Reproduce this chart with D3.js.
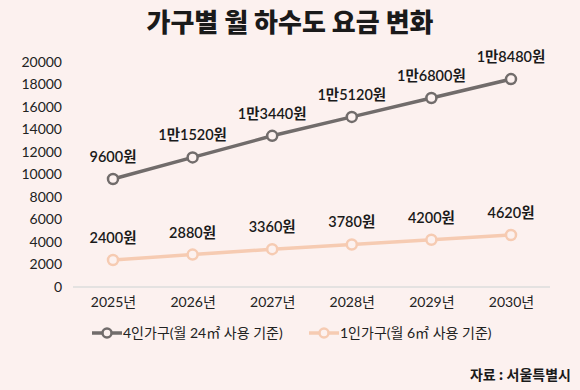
<!DOCTYPE html>
<html>
<head>
<meta charset="utf-8">
<script src="https://cdn.jsdelivr.net/npm/d3@7"></script>
<style>
  body { margin: 0; background: #fcf1ef; }
  svg { display: block; font-family: Lato, "Noto Sans CJK KR", sans-serif; }
</style>
</head>
<body>
<svg id="chart"></svg>
<script>
const years = ["2025년", "2026년", "2027년", "2028년", "2029년", "2030년"];
const family4 = [9600, 11520, 13440, 15120, 16800, 18480];
const family4Labels = ["9600원", "1만1520원", "1만3440원", "1만5120원", "1만6800원", "1만8480원"];
const family1 = [2400, 2880, 3360, 3780, 4200, 4620];
const family1Labels = ["2400원", "2880원", "3360원", "3780원", "4200원", "4620원"];
const yTicks = d3.range(0, 20001, 2000);

const width = 580, height = 390;
const svg = d3.select("#chart").attr("width", width).attr("height", height);

svg.append("rect").attr("width", width).attr("height", height).attr("fill", "#fcf1ef");

svg.append("text")
  .attr("x", 290).attr("y", 32)
  .attr("text-anchor", "middle")
  .attr("font-family", "'Noto Sans CJK KR', sans-serif")
  .attr("font-weight", 900)
  .attr("font-size", 26)
  .attr("fill", "#1a1a1a")
  .text("가구별 월 하수도 요금 변화");

const x = d3.scalePoint().domain(years).range([113, 511]);
const y = d3.scaleLinear().domain([0, 20000]).range([287, 62]);

// y axis labels
svg.append("g")
  .attr("transform", "translate(70,0)")
  .call(d3.axisLeft(y).tickValues(yTicks).tickSize(0).tickPadding(8).tickFormat(d3.format("d")))
  .call(g => g.select(".domain").remove())
  .call(g => g.selectAll("text").attr("font-size", 14).attr("fill", "#222").attr("font-family", "Lato, sans-serif"));

// baseline
svg.append("line")
  .attr("x1", 73).attr("x2", 550)
  .attr("y1", y(0)).attr("y2", y(0))
  .attr("stroke", "#dcdcdc").attr("stroke-width", 1.5);

// x axis labels
svg.append("g")
  .attr("transform", `translate(0,${y(0) + 4})`)
  .call(d3.axisBottom(x).tickSize(0).tickPadding(6))
  .call(g => g.select(".domain").remove())
  .call(g => g.selectAll("text").attr("font-size", 14).attr("fill", "#222")
    .attr("font-family", "Lato, 'Noto Sans CJK KR', sans-serif"));

const series = [
  { values: family4, labels: family4Labels, color: "#716c6b" },
  { values: family1, labels: family1Labels, color: "#f6cbb2" }
];

const line = d3.line().x((d, i) => x(years[i])).y(d => y(d));

series.forEach(s => {
  svg.append("path")
    .datum(s.values)
    .attr("d", line)
    .attr("fill", "none")
    .attr("stroke", s.color)
    .attr("stroke-width", 3.5);

  svg.selectAll(null)
    .data(s.values)
    .enter().append("circle")
    .attr("cx", (d, i) => x(years[i]))
    .attr("cy", d => y(d))
    .attr("r", 5)
    .attr("fill", "#fcf1ef")
    .attr("stroke", s.color)
    .attr("stroke-width", 2.5);

  svg.selectAll(null)
    .data(s.values)
    .enter().append("text")
    .attr("x", (d, i) => x(years[i]))
    .attr("y", d => y(d) - 17)
    .attr("text-anchor", "middle")
    .attr("font-size", 14.5)
    .attr("font-weight", 600)
    .attr("fill", "#1a1a1a")
    .text((d, i) => s.labels[i]);
});

// legend
const legendItems = [
  { label: "4인가구(월 24㎡ 사용 기준)", color: "#716c6b", x: 92 },
  { label: "1인가구(월 6㎡ 사용 기준)", color: "#f6cbb2", x: 309 }
];
legendItems.forEach(l => {
  const g = svg.append("g").attr("transform", `translate(${l.x},333)`);
  g.append("line").attr("x1", 0).attr("x2", 30).attr("stroke", l.color).attr("stroke-width", 3.5);
  g.append("circle").attr("cx", 15).attr("r", 4.5).attr("fill", "#fcf1ef")
    .attr("stroke", l.color).attr("stroke-width", 2.5);
  g.append("text").attr("x", 31).attr("y", 5)
    .attr("font-size", 14).attr("fill", "#222")
    .text(l.label);
});

svg.append("text")
  .attr("x", 571).attr("y", 380)
  .attr("text-anchor", "end")
  .attr("font-family", "'Noto Sans CJK KR', sans-serif")
  .attr("font-weight", 700)
  .attr("font-size", 14)
  .attr("fill", "#1a1a1a")
  .text("자료 : 서울특별시");
</script>
</body>
</html>
